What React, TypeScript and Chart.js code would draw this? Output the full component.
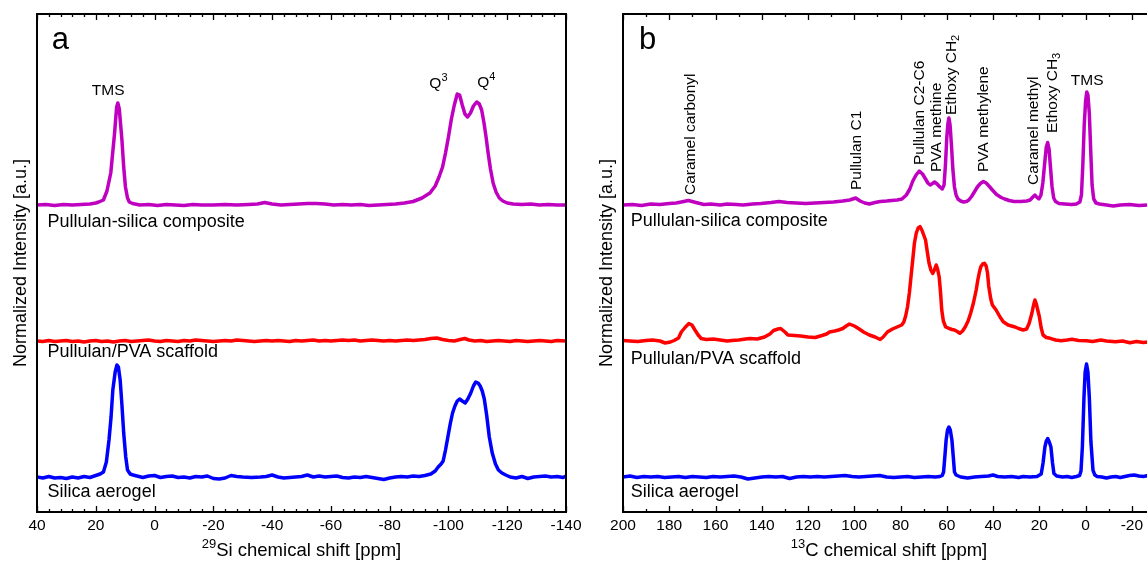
import React, { useEffect, useRef } from "react";
import { Chart, registerables } from "chart.js";

Chart.register(...registerables);
Chart.defaults.font.family = "'Liberation Sans', Arial, sans-serif";

type Pt = [number, number];

// ---------- Panel a: 29Si ----------
const SI_TICKS = [40, 20, 0, -20, -40, -60, -80, -100, -120, -140];

const SI_COMPOSITE: Pt[] = [
  [40, 0], [37, 0.5], [34, -0.5], [31, 0.5], [28, 0], [25, 0.5], [22, 1], [20, 2], [19, 3], [17.4, 5],
  [16.2, 14], [14.9, 32], [13.6, 72], [12.9, 98], [12.5, 102], [12.0, 96], [11.1, 65], [10.5, 38],
  [9.9, 18], [9.2, 7], [8.6, 3], [7.5, 1.5], [5, 0], [2, 0.5], [-1, -0.5], [-4, 0.5], [-7, 0], [-10, -0.5],
  [-13, 0.5], [-16, 0], [-20, 0], [-24, 0.5], [-28, 0], [-32, 0.5], [-35, 1], [-37.5, 2.5], [-40, 1],
  [-43, 0], [-46, 0.5], [-49, 1], [-52, 1.5], [-55, 1.5], [-58, 1], [-61, 0], [-64, 0.5], [-67, 0],
  [-70, 0.5], [-73, -0.5], [-76, 0], [-79, 0.5], [-82, 1], [-85, 2], [-88, 3.5], [-91, 7], [-93.7, 12],
  [-95.5, 19], [-96.8, 28], [-98, 38], [-99, 52], [-100, 68], [-101, 86], [-102, 100], [-103, 111],
  [-103.8, 110], [-104.7, 100], [-105.6, 91], [-106.5, 88], [-107.5, 92], [-108.5, 99], [-109.6, 103],
  [-110.5, 101], [-111.3, 95], [-112.1, 82], [-112.8, 68], [-113.5, 52], [-114.3, 36], [-115.2, 22],
  [-116.2, 13], [-117.3, 7], [-118.5, 4], [-120, 2], [-122, 1], [-125, 0.5], [-128, 1], [-131, 0],
  [-134, 0.5], [-137, 0], [-140, 0],
];

const SI_SCAFFOLD: Pt[] = [
  [40, 0], [38, -0.5], [36, 0.5], [34, -0.5], [32, 0], [30, 0.5], [28, -0.5], [26, 0], [24, -1], [22, 0],
  [20, 0.5], [18, -0.5], [16, 0], [14, -1], [12, 0], [10, 0.5], [8, -0.5], [6, 0], [4, 0.5], [2, 1], [0, 0],
  [-2, -0.5], [-4, 0.5], [-6, 0], [-8, -0.5], [-10, 0.5], [-12, 0], [-14, 1], [-16, 0.5], [-18, 0],
  [-20, -0.5], [-22, 0], [-24, 0.5], [-26, 0], [-28, 1], [-30, 0.5], [-32, 0], [-34, -0.5], [-36, 0],
  [-38, 0.5], [-40, 0], [-42, 0.5], [-44, 0], [-46, -0.5], [-48, 0.5], [-50, 0], [-52, 0.5], [-54, 1],
  [-56, 0], [-58, 0.5], [-60, 0], [-62, 0.5], [-64, 1], [-66, 0.5], [-68, 1], [-70, 0], [-72, 0.5],
  [-74, 1], [-76, 0.5], [-78, 0], [-80, 0.5], [-82, 0], [-84, 0.5], [-86, 1], [-88, 0.5], [-90, 1],
  [-92, 1.5], [-94, 2.5], [-96, 3], [-98, 1.5], [-100, 0.5], [-102, 0], [-104, 1.5], [-105.5, 2.5],
  [-107, 1], [-109, 0], [-111, 0.5], [-113, -0.5], [-115, 0], [-117, 0.5], [-119, 0], [-121, -0.5],
  [-123, 0.5], [-125, 0], [-127, -0.5], [-129, 0], [-131, 0.5], [-133, 0], [-135, -0.5], [-137, 0.5],
  [-140, 0],
];

const SI_AEROGEL: Pt[] = [
  [40, 0], [38, -1], [36, 0.5], [34, -1], [32, -0.5], [30, -1.5], [28, 0], [26, -1], [24, 0.5], [22, -0.5],
  [20, 1.5], [18.5, 3], [17.4, 5], [16.4, 15], [15.5, 37], [14.8, 60], [14.2, 87], [13.4, 105],
  [12.8, 112], [12.3, 110], [11.7, 97], [11.1, 72], [10.5, 44], [9.8, 20], [9.2, 7], [8.3, 3], [7.3, 2],
  [6, 1], [4, -0.5], [2, 1], [0, 1.5], [-2, -0.5], [-4, 0.5], [-6, 1], [-8, -0.5], [-10, 0], [-12, -1],
  [-14, 0.5], [-16, 0], [-18, 1], [-20, -1.5], [-22, -2], [-24, -1], [-26, 1.5], [-28, 0.5], [-30, 0],
  [-33, -0.5], [-36, 0], [-38, 0.5], [-40, 2], [-42, 0], [-44, -1], [-46, -0.5], [-48, 0], [-50, 0.5],
  [-52, 2], [-54, 0], [-56, 1], [-58, 0], [-60, 0.5], [-62, 1], [-64, -0.5], [-66, -1], [-68, 0],
  [-70, -0.5], [-72, 0.5], [-74, -0.5], [-76, -1.5], [-78, -2.5], [-80, -1], [-82, 0], [-84, 0.5],
  [-86, 0], [-88, 1], [-90, 0.5], [-92, 1.5], [-94, 3], [-95.5, 6], [-96.5, 10], [-97.5, 13], [-98.2, 16],
  [-99, 27], [-99.8, 40], [-100.6, 53], [-101.4, 64], [-102.2, 71], [-103, 76], [-103.8, 78],
  [-104.7, 76], [-105.7, 74], [-106.6, 78], [-107.6, 84], [-108.5, 91], [-109.3, 95], [-110.1, 94],
  [-110.8, 91], [-111.5, 86], [-112.2, 78], [-113, 62], [-113.9, 40], [-114.9, 24], [-116, 13],
  [-117, 7], [-118.2, 4], [-119.5, 2], [-121, 0], [-123, -1], [-125, 0.5], [-127, -1.5], [-129, 0],
  [-131, 0.5], [-133, 1], [-135, 0], [-137, 0.5], [-139, -0.5], [-140, 1],
];

// ---------- Panel b: 13C ----------
const C_TICKS = [200, 180, 160, 140, 120, 100, 80, 60, 40, 20, 0, -20];

const C_COMPOSITE: Pt[] = [
  [200, 0], [196, 0.5], [192, -0.5], [188, 1], [184, 0.5], [180, 1.5], [177, 2], [174.8, 3], [171.7, 4.5],
  [168.5, 2.5], [165, 0.5], [162, 1], [158, 0], [155, 1], [151, 0.5], [148, 0], [144, 1], [140.4, 1.5],
  [136, 2.5], [132.6, 3.5], [129, 2.5], [125, 2], [121, 1.5], [117, 2], [113, 2.5], [109, 3], [105, 4],
  [102, 5], [99.4, 7], [97.5, 4], [95.5, 2], [93.5, 1], [91, 2.5], [88.8, 3.5], [86, 4], [84, 4.5],
  [81.5, 5], [79.4, 6], [77.5, 10], [76, 16], [74.7, 24], [73.3, 30], [71.9, 34], [70.5, 31], [69.2, 26],
  [68.2, 22], [67.2, 20], [66.2, 21.5], [65.3, 23], [64.2, 21], [63, 18], [62, 16], [61.2, 20],
  [60.6, 40], [60, 68], [59.5, 82], [59.1, 87], [58.6, 80], [58, 60], [57.4, 36], [56.7, 18], [56, 10],
  [55.2, 6], [54, 4], [52.8, 3], [51.5, 3.5], [50.5, 5], [49.3, 8.5], [48.1, 13], [46.8, 18],
  [45.5, 21.5], [44.2, 23.5], [43, 22], [41.6, 18.5], [40.3, 15], [38.5, 10.5], [36.5, 7.5], [35, 6],
  [33, 4.5], [31, 3.5], [28, 3.5], [25.5, 4], [24, 5], [22.8, 8], [21.9, 10], [21, 7.5], [20.2, 6],
  [19.3, 10], [18.5, 22], [17.6, 44], [17, 58], [16.4, 62.5], [15.8, 56], [15.2, 38], [14.5, 18],
  [13.8, 7], [13, 3.5], [11.5, 1.5], [9, 1], [6, 0.5], [4, 1], [2.5, 3], [1.8, 10], [1.2, 40], [0.6, 80],
  [0, 104], [-0.5, 113], [-1, 110], [-1.6, 92], [-2.2, 55], [-2.8, 20], [-3.5, 6], [-4.5, 2], [-6, 1],
  [-9, 0], [-12, -1], [-15, 0], [-19, 0.5], [-23, -0.5], [-27, 0], [-30, 0],
];

const C_SCAFFOLD: Pt[] = [
  [200, 0.5], [197, 0], [193.6, -0.5], [190, 0.5], [187.3, 1], [184, 0], [181.8, -2], [179.5, -1],
  [177.9, 0.5], [176, 3], [174.8, 9], [173, 14], [171.5, 17.5], [170.2, 16], [168.9, 11], [167.5, 6],
  [166.2, 2.5], [164, 1.5], [161, 2], [158, 1], [155, 0], [152.9, 0.5], [150, 1], [147, 2], [145.1, 2.5],
  [142, 2], [138.8, 4], [136.5, 7], [134.9, 10.5], [133, 12], [131.8, 12.5], [130, 9], [128.7, 6],
  [126, 5.5], [123.2, 5], [120, 4], [116.9, 3.5], [114, 5.5], [112, 7], [110.7, 9], [108.5, 10],
  [106.8, 11], [105, 12.5], [103.5, 15], [102.1, 17], [100, 15], [98.2, 12.5], [96, 9], [93.5, 6],
  [91, 4], [88.8, 1.5], [87.5, 4], [85.7, 9], [83.5, 12], [81, 14.5], [79.5, 16], [78.6, 19], [77.8, 25],
  [77, 34], [76.2, 48], [75.5, 64], [74.7, 82], [74, 98], [73.2, 108], [72.4, 113], [71.6, 114.3],
  [70.8, 111], [70, 106], [69.2, 101], [68.5, 90], [67.7, 78], [66.9, 71], [66.1, 67.5], [65.4, 71],
  [64.6, 76], [64, 72], [63.3, 64], [62.7, 48], [62.2, 31], [61.5, 20], [60.5, 14], [59.1, 12.7],
  [57.8, 11.5], [56.7, 11], [55.5, 9.5], [54.4, 7.7], [53.2, 10], [52, 14.3], [50.8, 20], [49.7, 27.7],
  [48.5, 38], [47.3, 51], [46.6, 61], [45.9, 69], [45.3, 74.3], [44.5, 77], [43.7, 77.7], [43, 75],
  [42.4, 68], [41.9, 55], [41, 42], [40.3, 36], [38.7, 31], [37, 24], [35.6, 19.3], [33.5, 16],
  [30.9, 14.3], [29, 12.5], [27, 11], [25.5, 12], [24.4, 17.7], [23.2, 28], [22.5, 36], [21.9, 41],
  [21.3, 37], [20.6, 30], [20, 24.3], [19.2, 13], [18.4, 6], [17, 3.5], [15.3, 2.7], [13, 1],
  [10.6, 0.3], [8, 1], [5.9, 1.7], [3, 0.5], [-0.4, 0.3], [-3, -0.5], [-6.6, 1], [-9, 0], [-12.9, -0.7],
  [-16, 0], [-19.1, -1.7], [-22, -0.5], [-25, -1.5], [-27, -1], [-30, -1],
];

const C_AEROGEL: Pt[] = [
  [200, 0], [197, 1], [194, -0.5], [191, 0.5], [188, 0], [185, 0.5], [182, -0.5], [179, 0], [176, 0.5],
  [173, -0.5], [170, 0.5], [167, 0], [164, -0.5], [161, 0.5], [158, 0], [155, 0.5], [152, 1], [149, 0],
  [146, -2], [143, -1], [140, 0], [137, 0.5], [134, 0], [131, 0.5], [128, -1.5], [125, 0], [122, 0.5],
  [119, 0], [116, 0.5], [113, 0], [110, 0.5], [107, 1], [104, 1.5], [101, 0.5], [98, 0], [95, 0.5],
  [92, 1], [89, 1.5], [86, 0], [83, -0.5], [80, 0], [77, 0.5], [74, -0.5], [71, 0], [68, 0.5], [65, 0],
  [63, 0.5], [62, 1.5], [61.4, 5], [60.8, 22], [60.3, 37], [59.7, 47], [59.1, 50], [58.5, 47],
  [57.8, 37], [57.2, 20], [56.7, 5], [56, 2], [54, 0], [51, -1], [48, 0], [45, 0.5], [42, 1], [40, 2],
  [38, 0.5], [35, 0], [32, 0.5], [29, -0.5], [27, 0.5], [24, 0], [21, 0.5], [19.2, 3], [18.4, 14],
  [17.6, 30], [17, 36], [16.4, 38.5], [15.7, 35], [15, 30], [14.3, 14], [13.7, 3.5], [12.5, 1], [10, 0],
  [8, 0.5], [6, -0.5], [4, 0.5], [2.6, 1.5], [2, 6], [1.4, 30], [0.7, 80], [0.2, 105], [-0.4, 113],
  [-1, 105], [-1.6, 80], [-2.3, 35], [-3.2, 6.7], [-4, 2], [-5, 0.5], [-7, 0], [-9, -1], [-11, 0],
  [-13, 0.5], [-15, -0.5], [-17, 0.5], [-19, 1.5], [-21, 2], [-23, 1], [-25, 0.5], [-27, 1.5], [-30, 1],
];

// vertical stacking offsets of the three traces (intensity units)
const OFFSET_COMPOSITE = 307;
const OFFSET_SCAFFOLD = 171;
const OFFSET_AEROGEL = 35;

const COLOR_COMPOSITE = "#C000C0";
const COLOR_SCAFFOLD = "#FF0000";
const COLOR_AEROGEL = "#0000FF";

const SERIES_NAMES = ["Pullulan-silica composite", "Pullulan/PVA scaffold", "Silica aerogel"];

type Part = { t: string; k?: "sup" | "sub" };
type Label = {
  parts: Part[];
  x: number;
  y: number;
  align?: "left" | "center";
  baseline?: CanvasTextBaseline;
  size: number;
  rotate?: boolean;
};

const FONT = "'Liberation Sans', Arial, sans-serif";

function drawRich(ctx: CanvasRenderingContext2D, lab: Label, px: number, py: number) {
  const size = lab.size;
  const small = Math.round(size * 0.68);
  ctx.save();
  ctx.translate(px, py);
  if (lab.rotate) ctx.rotate(-Math.PI / 2);
  ctx.textBaseline = lab.baseline || "alphabetic";
  ctx.textAlign = "left";
  ctx.fillStyle = "#000";
  let total = 0;
  const widths = lab.parts.map((p) => {
    ctx.font = `${p.k ? small : size}px ${FONT}`;
    const w = ctx.measureText(p.t).width;
    total += w;
    return w;
  });
  let cx = lab.align === "center" ? -total / 2 : 0;
  lab.parts.forEach((p, i) => {
    ctx.font = `${p.k ? small : size}px ${FONT}`;
    const dy = p.k === "sup" ? -size * 0.42 : p.k === "sub" ? size * 0.3 : 0;
    ctx.fillText(p.t, cx, dy);
    cx += widths[i];
  });
  ctx.restore();
}

const framePlugin = {
  id: "frame",
  afterDraw(chart: any, _args: any, opts: any) {
    const { ctx, chartArea } = chart;
    const { left, right, top, bottom } = chartArea;
    const xs = chart.scales.x;
    const ys = chart.scales.y;
    ctx.save();
    ctx.strokeStyle = "#000";
    ctx.lineWidth = 2;
    ctx.strokeRect(left, top, right - left, bottom - top);
    ctx.lineWidth = 1.3;
    const minor = opts.minor;
    const start = Math.ceil(xs.min / minor) * minor;
    for (let v = start; v <= xs.max + 1e-9; v += minor) {
      const px = Math.round(xs.getPixelForValue(v)) + 0.5;
      const major = Math.abs(v % opts.major) < 1e-6;
      const len = major ? 6 : 3;
      ctx.beginPath();
      ctx.moveTo(px, bottom);
      ctx.lineTo(px, bottom - len);
      ctx.moveTo(px, top);
      ctx.lineTo(px, top + len);
      ctx.stroke();
    }
    ctx.restore();

    // axis titles
    drawRich(
      ctx,
      { parts: [{ t: "Normalized Intensity [a.u.]" }], x: 0, y: 0, align: "center", baseline: "middle", size: 18, rotate: true },
      left - 16,
      (top + bottom) / 2
    );
    drawRich(
      ctx,
      { parts: opts.xTitle, x: 0, y: 0, align: "center", baseline: "alphabetic", size: 18.5 },
      (left + right) / 2,
      556
    );
    for (const lab of opts.labels as Label[]) {
      drawRich(ctx, lab, xs.getPixelForValue(lab.x), ys.getPixelForValue(lab.y));
    }
  },
};

type Panel = {
  min: number;
  max: number;
  ticks: number[];
  minor: number;
  padLeft: number;
  padRight: number;
  series: { pts: Pt[]; offset: number; color: string }[];
  xTitle: Part[];
  labels: Label[];
};

const PANEL_A: Panel = {
  min: -140,
  max: 40,
  ticks: SI_TICKS,
  minor: 4,
  padLeft: 37,
  padRight: 24,
  series: [
    { pts: SI_COMPOSITE, offset: OFFSET_COMPOSITE, color: COLOR_COMPOSITE },
    { pts: SI_SCAFFOLD, offset: OFFSET_SCAFFOLD, color: COLOR_SCAFFOLD },
    { pts: SI_AEROGEL, offset: OFFSET_AEROGEL, color: COLOR_AEROGEL },
  ],
  xTitle: [{ t: "29", k: "sup" }, { t: "Si chemical shift [ppm]" }],
  labels: [
    { parts: [{ t: "a" }], x: 35, y: 463, size: 31 },
    { parts: [{ t: "TMS" }], x: 15.8, y: 417, align: "center", size: 15.5 },
    { parts: [{ t: "Q" }, { t: "3", k: "sup" }], x: -93.5, y: 424, size: 15.5 },
    { parts: [{ t: "Q" }, { t: "4", k: "sup" }], x: -109.8, y: 425.5, size: 15.5 },
    { parts: [{ t: SERIES_NAMES[0] }], x: 36.4, y: 289.5, baseline: "middle", size: 18 },
    { parts: [{ t: SERIES_NAMES[1] }], x: 36.4, y: 159.5, baseline: "middle", size: 18 },
    { parts: [{ t: SERIES_NAMES[2] }], x: 36.4, y: 19.5, baseline: "middle", size: 18 },
  ],
};

const PANEL_B: Panel = {
  min: -30,
  max: 200,
  ticks: C_TICKS,
  minor: 10,
  padLeft: 43,
  padRight: 25,
  series: [
    { pts: C_COMPOSITE, offset: OFFSET_COMPOSITE, color: COLOR_COMPOSITE },
    { pts: C_SCAFFOLD, offset: OFFSET_SCAFFOLD, color: COLOR_SCAFFOLD },
    { pts: C_AEROGEL, offset: OFFSET_AEROGEL, color: COLOR_AEROGEL },
  ],
  xTitle: [{ t: "13", k: "sup" }, { t: "C chemical shift [ppm]" }],
  labels: [
    { parts: [{ t: "b" }], x: 193.1, y: 463, size: 31 },
    { parts: [{ t: "Caramel carbonyl" }], x: 170.8, y: 317, baseline: "middle", size: 15.5, rotate: true },
    { parts: [{ t: "Pullulan C1" }], x: 98.9, y: 322, baseline: "middle", size: 15.5, rotate: true },
    { parts: [{ t: "Pullulan C2-C6" }], x: 71.9, y: 347, baseline: "middle", size: 15.5, rotate: true },
    { parts: [{ t: "PVA methine" }], x: 64.4, y: 340, baseline: "middle", size: 15.5, rotate: true },
    { parts: [{ t: "Ethoxy CH" }, { t: "2", k: "sub" }], x: 57.9, y: 397, baseline: "middle", size: 15.5, rotate: true },
    { parts: [{ t: "PVA methylene" }], x: 44.2, y: 340, baseline: "middle", size: 15.5, rotate: true },
    { parts: [{ t: "Caramel methyl" }], x: 22.3, y: 327, baseline: "middle", size: 15.5, rotate: true },
    { parts: [{ t: "Ethoxy CH" }, { t: "3", k: "sub" }], x: 14.2, y: 379, baseline: "middle", size: 15.5, rotate: true },
    { parts: [{ t: "TMS" }], x: -0.65, y: 427, align: "center", size: 15.5 },
    { parts: [{ t: SERIES_NAMES[0] }], x: 196.7, y: 290.5, baseline: "middle", size: 18 },
    { parts: [{ t: SERIES_NAMES[1] }], x: 196.7, y: 153, baseline: "middle", size: 18 },
    { parts: [{ t: SERIES_NAMES[2] }], x: 196.7, y: 19.5, baseline: "middle", size: 18 },
  ],
};

function buildConfig(p: Panel): any {
  return {
    type: "line",
    data: {
      datasets: p.series.map((s, i) => ({
        label: SERIES_NAMES[i],
        data: s.pts.map(([x, h]) => ({ x, y: h + s.offset })),
        borderColor: s.color,
        borderWidth: 3.5,
        pointRadius: 0,
        tension: 0,
        fill: false,
        borderJoinStyle: "round",
        borderCapStyle: "round",
      })),
    },
    options: {
      animation: false,
      responsive: false,
      devicePixelRatio: 1,
      layout: { padding: { left: p.padLeft, top: 14, right: p.padRight, bottom: 0 } },
      plugins: {
        legend: { display: false },
        tooltip: { enabled: false },
        frame: { minor: p.minor, major: 20, xTitle: p.xTitle, labels: p.labels },
      },
      scales: {
        x: {
          type: "linear",
          reverse: true,
          min: p.min,
          max: p.max,
          grid: { display: false, drawTicks: false },
          border: { display: false },
          ticks: { color: "#000", font: { family: FONT, size: 15.5 }, padding: 4, maxRotation: 0, autoSkip: false },
          afterBuildTicks: (s: any) => {
            s.ticks = p.ticks.map((v) => ({ value: v }));
          },
          afterFit: (s: any) => {
            s.height = 49;
          },
        },
        y: { display: false, min: 0, max: 498 },
      },
    },
    plugins: [framePlugin],
  };
}

export default function App() {
  const aRef = useRef<HTMLCanvasElement>(null);
  const bRef = useRef<HTMLCanvasElement>(null);
  useEffect(() => {
    const ca = new Chart(aRef.current as HTMLCanvasElement, buildConfig(PANEL_A));
    const cb = new Chart(bRef.current as HTMLCanvasElement, buildConfig(PANEL_B));
    return () => {
      ca.destroy();
      cb.destroy();
    };
  }, []);
  return (
    <div
      style={{
        position: "fixed",
        left: 0,
        top: 0,
        width: 1147,
        height: 561,
        overflow: "hidden",
        background: "#fff",
      }}
    >
      <canvas ref={aRef} width={590} height={561} style={{ position: "absolute", left: 0, top: 0 }} />
      <canvas ref={bRef} width={600} height={561} style={{ position: "absolute", left: 580, top: 0 }} />
    </div>
  );
}
